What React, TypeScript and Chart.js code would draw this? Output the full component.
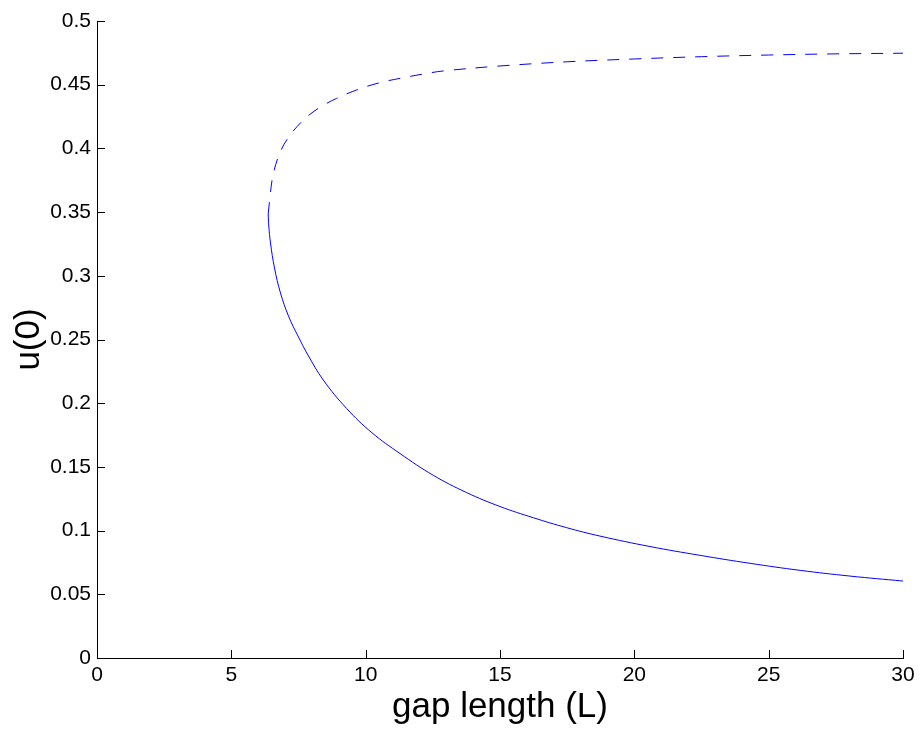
import React, { useEffect, useRef } from "react";
import { Chart, registerables } from "chart.js";

Chart.register(...registerables);

// Lower (stable) branch of u(0) versus gap length L
const stableL = [6.372, 6.394, 6.458, 6.607, 6.83, 7.128, 7.481, 7.853, 8.423, 9.294, 10.235, 11.278, 12.517, 13.76, 15.0, 16.24, 17.48, 18.72, 20.58, 22.44, 24.31, 26.17, 28.03, 30.0];
const stableU = [0.3485, 0.3391, 0.3257, 0.3061, 0.2865, 0.2684, 0.2527, 0.2378, 0.2182, 0.1958, 0.1768, 0.1605, 0.1434, 0.1298, 0.1189, 0.1101, 0.1023, 0.0957, 0.0875, 0.0806, 0.0743, 0.0688, 0.0643, 0.0604];

// Upper (unstable) branch, drawn dashed
const unstableL = [6.372, 6.44, 6.54, 6.75, 7.06, 7.62, 8.24, 8.92, 9.73, 10.53, 11.28, 12.15, 12.89, 15.0, 17.5, 20.0, 22.5, 25.0, 27.5, 30.0];
const unstableU = [0.3485, 0.362, 0.3778, 0.3935, 0.4066, 0.421, 0.4315, 0.4393, 0.4464, 0.4516, 0.455, 0.4584, 0.4608, 0.4647, 0.468, 0.4702, 0.472, 0.4733, 0.4742, 0.4747];

const xTickValues = [0, 5, 10, 15, 20, 25, 30];
const yTickValues = [0, 0.05, 0.1, 0.15, 0.2, 0.25, 0.3, 0.35, 0.4, 0.45, 0.5];

const xTitle = "gap length (L)";
const yTitle = "u(0)";

const FONT = "'Liberation Sans', Arial, Helvetica, sans-serif";
const TICK_LEN = 8;

const toPoints = (xs: number[], ys: number[]) => xs.map((x, i) => ({ x, y: ys[i] }));

// MATLAB-style inward tick marks on the bottom and left axes
const innerTicks = {
  id: "innerTicks",
  afterDraw(chart: any) {
    const { ctx, chartArea, scales } = chart;
    ctx.save();
    ctx.strokeStyle = "#000";
    ctx.lineWidth = 1;
    ctx.beginPath();
    for (const v of xTickValues) {
      const px = Math.round(scales.x.getPixelForValue(v)) + 0.5;
      ctx.moveTo(px, chartArea.bottom);
      ctx.lineTo(px, chartArea.bottom - TICK_LEN);
    }
    for (const v of yTickValues) {
      const py = Math.round(scales.y.getPixelForValue(v)) + 0.5;
      ctx.moveTo(chartArea.left, py);
      ctx.lineTo(chartArea.left + TICK_LEN, py);
    }
    ctx.stroke();
    ctx.restore();
  },
};

export default function App() {
  const canvasRef = useRef<HTMLCanvasElement | null>(null);

  useEffect(() => {
    const canvas = canvasRef.current;
    if (!canvas) return;
    const chart = new Chart(canvas, {
      type: "scatter",
      data: {
        datasets: [
          {
            data: toPoints(stableL, stableU),
            showLine: true,
            borderColor: "#0000ff",
            borderWidth: 1,
            pointRadius: 0,
            tension: 0.4,
            fill: false,
          },
          {
            data: toPoints(unstableL, unstableU),
            showLine: true,
            borderColor: "#0000ff",
            borderWidth: 1,
            borderDash: [12, 10],
            pointRadius: 0,
            tension: 0.35,
            fill: false,
          },
        ],
      },
      options: {
        responsive: false,
        animation: false,
        devicePixelRatio: 1,
        layout: { padding: { top: 21, right: 17, left: 0, bottom: 0 } },
        plugins: {
          legend: { display: false },
          tooltip: { enabled: false },
        },
        scales: {
          x: {
            type: "linear",
            min: 0,
            max: 30,
            afterBuildTicks: (scale: any) => {
              scale.ticks = xTickValues.map((value) => ({ value }));
            },
            afterFit: (scale: any) => {
              scale.height = 72;
            },
            grid: { display: false, drawTicks: false },
            border: { display: true, color: "#000", width: 1 },
            ticks: {
              color: "#000",
              padding: 5,
              maxRotation: 0,
              font: { family: FONT, size: 21 },
              callback: (v: any) => String(v),
            },
            title: {
              display: true,
              text: xTitle,
              color: "#000",
              font: { family: FONT, size: 35, lineHeight: 1.2 },
              padding: { top: 0, bottom: 2 },
            },
          },
          y: {
            type: "linear",
            min: 0,
            max: 0.5,
            afterBuildTicks: (scale: any) => {
              scale.ticks = yTickValues.map((value) => ({ value }));
            },
            afterFit: (scale: any) => {
              scale.width = 97;
            },
            grid: { display: false, drawTicks: false },
            border: { display: true, color: "#000", width: 1 },
            ticks: {
              color: "#000",
              padding: 6,
              font: { family: FONT, size: 21 },
              callback: (v: any) => String(Number(Number(v).toFixed(2))),
            },
            title: {
              display: true,
              text: yTitle,
              color: "#000",
              font: { family: FONT, size: 35, lineHeight: 1.2 },
              padding: { top: 8, bottom: 0 },
            },
          },
        },
      },
      plugins: [innerTicks],
    } as any);
    return () => chart.destroy();
  }, []);

  return (
    <div style={{ position: "absolute", left: 0, top: 0, width: 920, height: 730, background: "#fff" }}>
      <canvas ref={canvasRef} width={920} height={730} style={{ display: "block" }} />
    </div>
  );
}
